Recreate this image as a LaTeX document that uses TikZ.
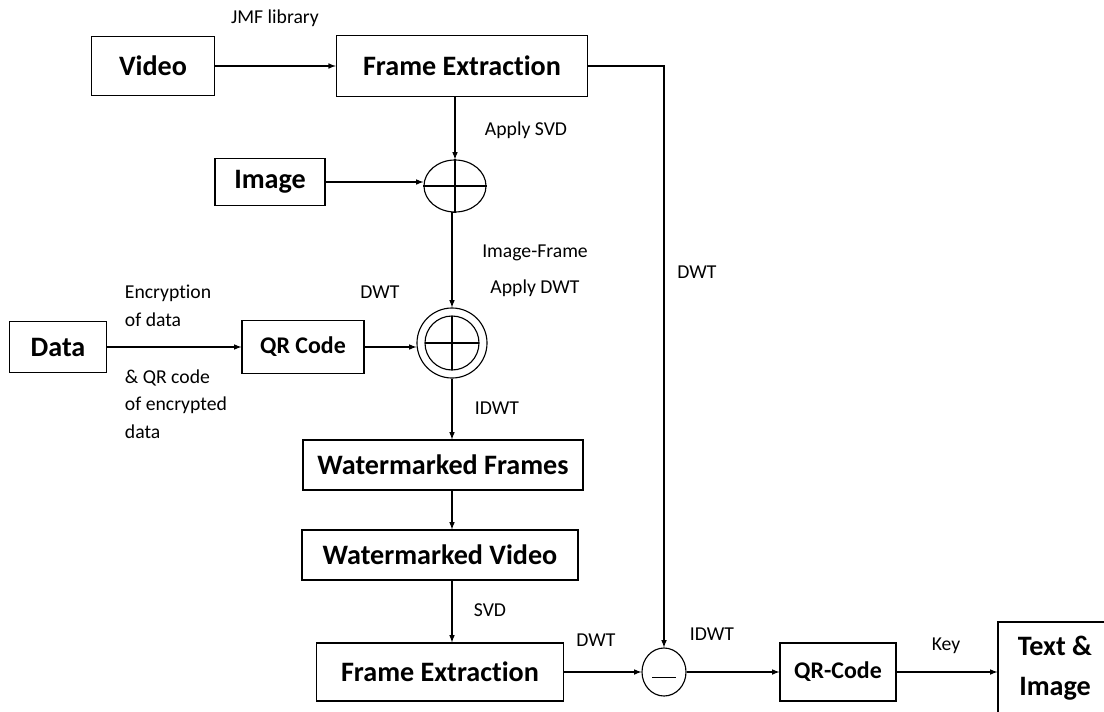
\documentclass[tikz,border=0pt]{standalone}
\usepackage{fontspec}
\setmainfont[Ligatures=NoCommon]{Carlito}
\usetikzlibrary{shapes.geometric}
\tikzset{
	blok/.style={draw,rectangle,thick,font=\bfseries\fontsize{20}{24}\selectfont,align=center},
	etiq/.style={font=\fontsize{14}{16}\selectfont,align=left},
	fleche/.style={thick,->,>=latex},
}
\begin{document}
\begin{tikzpicture}[x=0.025cm,y=-0.025cm]
	\useasboundingbox (0,0) rectangle (1104,711) ;
	\node[blok,minimum width=3.08cm,minimum height=1.48cm] (Video) at (153,66) {Video} ;
	\node[blok,minimum width=6.28cm,minimum height=1.53cm] (FE1) at (462,66) {Frame Extraction} ;
	\node[blok,minimum width=2.75cm,minimum height=1.18cm] (Image) at (270,182) {Image} ;
	\node[draw,thick,ellipse,minimum width=1.55cm,minimum height=1.3cm] (Plus1) at (455,186) {} ;
	\node[blok,minimum width=2.43cm,minimum height=1.28cm] (Data) at (58,347) {Data} ;
	\node[blok,font=\bfseries\fontsize{17}{20}\selectfont,minimum width=3.05cm,minimum height=1.33cm] (QR1) at (303,347) {QR Code} ;
	\node[draw,thick,circle,minimum size=1.75cm] (Plus2) at (452,343) {} ;
	\node[blok,minimum width=7cm,minimum height=1.25cm] (WF) at (443,465) {Watermarked Frames} ;
	\node[blok,minimum width=6.9cm,minimum height=1.25cm] (WV) at (440,555) {Watermarked Video} ;
	\node[blok,minimum width=6.18cm,minimum height=1.45cm] (FE2) at (440,672) {Frame Extraction} ;
	\node[draw,thick,ellipse,minimum width=1.1cm,minimum height=1.2cm] (Moins) at (664,672) {} ;
	\node[blok,font=\bfseries\fontsize{17}{20}\selectfont,minimum width=2.9cm,minimum height=1.45cm] (QR2) at (838,672) {QR-Code} ;
	\node[blok,minimum width=2.85cm,minimum height=2.3cm] (TI) at (1055,668) {Text \&\\[4pt] Image} ;
	% croix et signes
	\draw[thick] (Plus1.north) -- (Plus1.south) ;
	\draw[thick] (Plus1.west) -- (Plus1.east) ;
	\draw[thick] (Plus2) circle (0.675cm) ;
	\draw[thick] ([yshift=0.675cm]Plus2.center) -- ([yshift=-0.675cm]Plus2.center) ;
	\draw[thick] ([xshift=-0.675cm]Plus2.center) -- ([xshift=0.675cm]Plus2.center) ;
	\draw[thick] ([xshift=-0.3cm,yshift=-0.14cm]Moins.center) -- ([xshift=0.3cm,yshift=-0.14cm]Moins.center) ;
	% liaisons
	\draw[fleche] (Video) -- (FE1) ;
	\draw[fleche] (FE1.east) -| (Moins.north) ;
	\draw[fleche] (FE1.south -| Plus1) -- (Plus1.north) ;
	\draw[fleche] (Image.east) -- (Image.east -| Plus1.west) ;
	\draw[fleche] (Plus1.south) -- (Plus1.south -| Plus2) -- (Plus2.north) ;
	\draw[fleche] (Data) -- (QR1) ;
	\draw[fleche] (QR1.east) -- (QR1.east -| Plus2.west) ;
	\draw[fleche] (Plus2.south) -- (Plus2.south |- WF.north) ;
	\draw[fleche] (WF.south -| Plus2) -- (WV.north -| Plus2) ;
	\draw[fleche] (WV.south -| Plus2) -- (FE2.north -| Plus2) ;
	\draw[fleche] (FE2) -- (Moins) ;
	\draw[fleche] (Moins) -- (QR2) ;
	\draw[fleche] (QR2) -- (QR2 -| TI.west) ;
	% textes
	\node[etiq] (jmf) at (275,18) {JMF library} ;
	\node[etiq] (svd1) at (526,130) {Apply SVD} ;
	\node[etiq] (imfr) at (535,253) {Image-Frame} ;
	\node[etiq] (adwt) at (535,288) {Apply DWT} ;
	\node[etiq] (dwt1) at (380,292) {DWT} ;
	\node[etiq] (dwt2) at (697,272) {DWT} ;
	\node[etiq,anchor=west] (enc) at (120,293) {Encryption} ;
	\node[etiq,anchor=west] (ofd) at (120,320) {of data} ;
	\node[etiq,anchor=west] (qrc) at (120,378) {\& QR code} ;
	\node[etiq,anchor=west] (ofe) at (120,405) {of encrypted} ;
	\node[etiq,anchor=west] (dat) at (120,432) {data} ;
	\node[etiq] (idwt1) at (497,408) {IDWT} ;
	\node[etiq] (svd2) at (490,610) {SVD} ;
	\node[etiq] (dwt3) at (596,640) {DWT} ;
	\node[etiq] (idwt2) at (712,634) {IDWT} ;
	\node[etiq] (key) at (946,646) {Key} ;
\end{tikzpicture}
\end{document}
